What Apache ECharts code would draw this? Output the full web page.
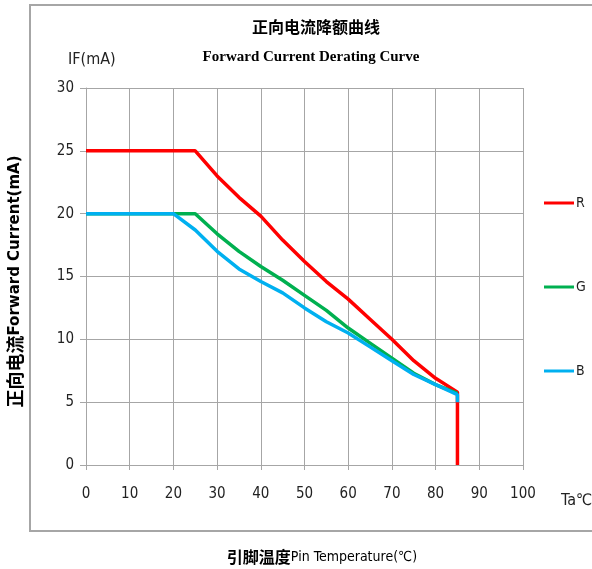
<!DOCTYPE html>
<html>
<head>
<meta charset="utf-8">
<script src="https://cdn.jsdelivr.net/npm/echarts@6/dist/echarts.min.js"></script>
<style>
    html,body{margin:0;padding:0;background:#fff;}
    .box{width:592px;height:569px;}
</style>
</head>
<body>
<div class="box"></div>
<script>
// temperature points (Ta, ℃)
let temps = [0, 20, 25, 30, 35, 40, 45, 50, 55, 60, 65, 70, 75, 80, 85];
// forward current (mA)
let rVals = [25, 25, 25, 23.0, 21.3, 19.8, 17.9, 16.2, 14.6, 13.2, 11.6, 10.0, 8.3, 6.9, 5.8];
let gVals = [20, 20, 20, 18.4, 17.0, 15.8, 14.7, 13.5, 12.3, 10.9, 9.7, 8.5, 7.3, 6.4, 5.7];
let bVals = [20, 20, 18.7, 17.0, 15.6, 14.6, 13.7, 12.5, 11.4, 10.5, 9.4, 8.3, 7.2, 6.4, 5.6];
// drop at the end of R and B (at 85℃)
let rEnd = 0;
let bEnd = 5.0;
let names = ["R", "G", "B"];
let colors = ["#ff0000", "#00b050", "#00b0f0"];

function pairs(vals, end){
    let out = temps.map(function(t, i){ return [t, vals[i]]; });
    if(end !== undefined){
        out.push([temps[temps.length - 1], end]);
    }
    return out;
}

let narrow = "'Liberation Sans Narrow', 'Arial Narrow', 'DejaVu Sans Condensed', sans-serif";
let gridColor = "#a6a6a6";

let mycharts = echarts.init(document.querySelector(".box"));
mycharts.setOption({
    backgroundColor:"#fff",
    animation:false,
    title:[
        {
            text:"正向电流降额曲线",
            left:311,
            top:14,
            textAlign:"center",
            textStyle:{fontSize:16,fontWeight:"bold",color:"#000",fontFamily:"'Noto Sans CJK SC'"}
        },
        {
            text:"Forward Current Derating Curve",
            left:306,
            top:45,
            textAlign:"center",
            textStyle:{fontSize:15,fontWeight:"bold",color:"#000",fontFamily:"'Liberation Serif', serif"}
        },
        {
            text:"IF(mA)",
            left:63,
            top:47,
            textStyle:{fontSize:16,fontWeight:"normal",color:"#222",fontFamily:narrow}
        },
        {
            text:"Ta℃",
            left:556,
            top:488,
            textStyle:{fontSize:16,fontWeight:"normal",color:"#222",fontFamily:narrow}
        },
        {
            text:"{a|引脚温度}{b|Pin Temperature(℃)}",
            left:317,
            top:544,
            textAlign:"center",
            textStyle:{
                rich:{
                    a:{fontSize:16,fontWeight:"bold",color:"#000",fontFamily:"'Noto Sans CJK SC'"},
                    b:{fontSize:14,fontWeight:"normal",color:"#000",fontFamily:narrow}
                }
            }
        }
    ],
    graphic:[
        {
            type:"rect",
            shape:{x:30,y:5,width:600,height:526},
            style:{fill:"none",stroke:"#a6a6a6",lineWidth:2},
            silent:true
        }
    ],
    legend:{
        data:names,
        orient:"vertical",
        left:539,
        top:191,
        itemWidth:30,
        itemHeight:3,
        itemGap:70,
        icon:"rect",
        textStyle:{fontSize:14,color:"#222",fontFamily:narrow,padding:[0,0,0,-3]}
    },
    grid:{
        left:86,
        right:69,
        top:88,
        bottom:104,
        outerBoundsMode:"none"
    },
    xAxis:{
        type:"value",
        min:0,
        max:100,
        interval:10,
        axisLine:{show:true,lineStyle:{color:gridColor}},
        axisTick:{show:true,length:5,lineStyle:{color:gridColor}},
        splitLine:{show:true,lineStyle:{color:gridColor,width:1}},
        axisLabel:{margin:22,fontSize:15,color:"#222",fontFamily:narrow}
    },
    yAxis:{
        type:"value",
        min:0,
        max:30,
        interval:5,
        name:"{a|正向电流}{b|Forward Current(mA)}",
        nameLocation:"middle",
        nameRotate:90,
        nameGap:62,
        nameTextStyle:{
            padding:[0,10,0,0],
            rich:{
                a:{fontSize:18,fontWeight:"bold",color:"#000",fontFamily:"'Noto Sans CJK SC'"},
                b:{fontSize:15,fontWeight:"bold",color:"#000",fontFamily:"'DejaVu Sans', sans-serif"}
            }
        },
        axisLine:{show:true,lineStyle:{color:gridColor}},
        axisTick:{show:true,length:6,lineStyle:{color:gridColor}},
        splitLine:{show:true,lineStyle:{color:gridColor,width:1}},
        axisLabel:{margin:12,fontSize:15,color:"#222",fontFamily:narrow}
    },
    series:[
        {
            name:names[0],
            type:"line",
            data:pairs(rVals, rEnd),
            showSymbol:false,
            lineStyle:{color:colors[0],width:3.5},
            itemStyle:{color:colors[0]}
        },
        {
            name:names[1],
            type:"line",
            data:pairs(gVals),
            showSymbol:false,
            lineStyle:{color:colors[1],width:3.5},
            itemStyle:{color:colors[1]}
        },
        {
            name:names[2],
            type:"line",
            data:pairs(bVals, bEnd),
            showSymbol:false,
            lineStyle:{color:colors[2],width:3.5},
            itemStyle:{color:colors[2]}
        }
    ]
});
</script>
</body>
</html>
